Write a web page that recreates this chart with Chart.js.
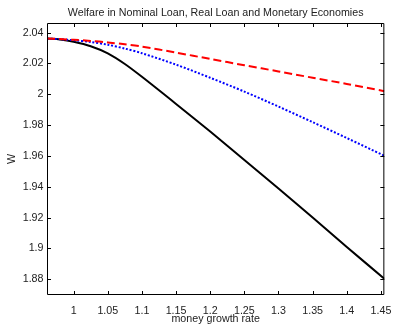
<!DOCTYPE html>
<html>
<head>
<meta charset="utf-8">
<title>Welfare</title>
<script src="https://cdn.jsdelivr.net/npm/chart.js@4.4.1/dist/chart.umd.min.js"></script>
<style>
  html, body { margin: 0; padding: 0; background: #fff; }
  canvas { display: block; }
</style>
</head>
<body>
<canvas id="welfareChart" width="401" height="324"></canvas>
<script>
// money growth rate grid
const growthRates = [0.961, 0.98, 1.0, 1.025, 1.05, 1.075, 1.1, 1.15, 1.2, 1.25, 1.3, 1.35, 1.4, 1.455];

// welfare W in each economy
const realLoanW    = [2.0361, 2.0358, 2.0353, 2.0346, 2.0336, 2.0324, 2.0309, 2.0270, 2.0229, 2.0188, 2.0148, 2.0107, 2.0067, 2.0020];
const nominalLoanW = [2.0361, 2.0357, 2.0350, 2.0339, 2.0321, 2.0296, 2.0266, 2.0192, 2.0107, 2.0017, 1.9920, 1.9819, 1.9716, 1.9601];
const monetaryW    = [2.0361, 2.0355, 2.0340, 2.0311, 2.0265, 2.0196, 2.0113, 1.9937, 1.9758, 1.9574, 1.9389, 1.9201, 1.9010, 1.8803];

// axis ticks
const xTicks = [1, 1.05, 1.1, 1.15, 1.2, 1.25, 1.3, 1.35, 1.4, 1.45];
const yTicks = [1.88, 1.9, 1.92, 1.94, 1.96, 1.98, 2, 2.02, 2.04];

const FONT = { family: "'Liberation Sans', Arial, sans-serif", size: 10.7 };
const TEXT = '#222';

function points(values) {
  return growthRates.map((g, i) => ({ x: g, y: values[i] }));
}

// box round the plot with inward tick marks on all four sides
const boxTicks = {
  id: 'boxTicks',
  afterDraw(chart) {
    const { ctx, chartArea: a, scales: { x, y } } = chart;
    const len = 4;
    ctx.save();
    ctx.strokeStyle = '#000';
    ctx.lineWidth = 1;
    ctx.beginPath();
    ctx.rect(a.left + 0.5, a.top + 0.5, a.right - a.left - 1, a.bottom - a.top - 1);
    xTicks.forEach(v => {
      const px = Math.round(x.getPixelForValue(v)) + 0.5;
      ctx.moveTo(px, a.bottom); ctx.lineTo(px, a.bottom - len);
      ctx.moveTo(px, a.top); ctx.lineTo(px, a.top + len);
    });
    yTicks.forEach(v => {
      const py = Math.round(y.getPixelForValue(v)) + 0.5;
      ctx.moveTo(a.left, py); ctx.lineTo(a.left + len, py);
      ctx.moveTo(a.right, py); ctx.lineTo(a.right - len, py);
    });
    ctx.stroke();
    ctx.restore();
  }
};

const ctx = document.getElementById('welfareChart').getContext('2d');
new Chart(ctx, {
  type: 'line',
  data: {
    datasets: [
      {
        label: 'Real Loan',
        data: points(realLoanW),
        borderColor: '#ff0000',
        borderWidth: 2,
        borderDash: [8, 4],
        pointRadius: 0,
        tension: 0.3
      },
      {
        label: 'Nominal Loan',
        data: points(nominalLoanW),
        borderColor: '#0000ff',
        borderWidth: 2,
        borderDash: [2, 1.8],
        pointRadius: 0,
        tension: 0.3
      },
      {
        label: 'Monetary',
        data: points(monetaryW),
        borderColor: '#000000',
        borderWidth: 2,
        pointRadius: 0,
        tension: 0.3
      }
    ]
  },
  options: {
    responsive: false,
    animation: false,
    layout: { padding: { left: 0, right: 8, top: 0, bottom: 0 } },
    plugins: {
      legend: { display: false },
      tooltip: { enabled: false },
      title: {
        display: true,
        text: 'Welfare in Nominal Loan, Real Loan and Monetary Economies',
        fullSize: false,
        color: TEXT,
        font: { ...FONT, weight: 'normal' },
        padding: { top: 6.4, bottom: 3.76 }
      }
    },
    scales: {
      x: {
        type: 'linear',
        min: 0.961,
        max: 1.455,
        grid: { display: false, drawTicks: false },
        border: { display: false },
        ticks: { padding: 9.5, color: TEXT, font: FONT, maxRotation: 0, autoSkip: false, callback: v => String(v) },
        afterBuildTicks: s => { s.ticks = xTicks.map(v => ({ value: v })); },
        afterFit: s => { s.height = 29; },
        title: { display: true, text: 'money growth rate', color: TEXT, font: FONT, padding: { top: 0, bottom: -1.2 } }
      },
      y: {
        type: 'linear',
        min: 1.8698,
        max: 2.0462,
        grid: { display: false, drawTicks: false },
        border: { display: false },
        ticks: { padding: 3.5, color: TEXT, font: FONT, autoSkip: false, callback: v => String(v) },
        afterBuildTicks: s => { s.ticks = yTicks.map(v => ({ value: v })); },
        afterFit: s => { s.width = 47; },
        title: { display: true, text: 'W', color: TEXT, font: FONT, padding: { top: 5.3, bottom: 0 } }
      }
    }
  },
  plugins: [boxTicks]
});
</script>
</body>
</html>
